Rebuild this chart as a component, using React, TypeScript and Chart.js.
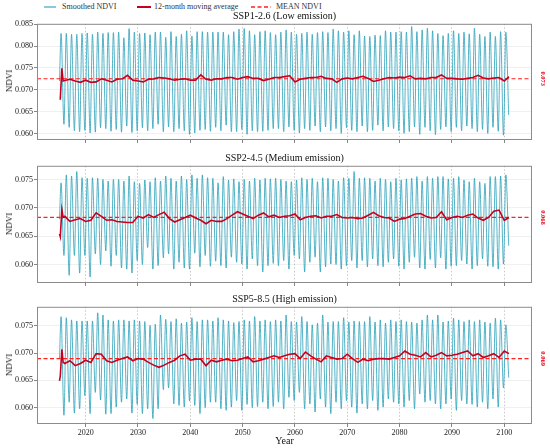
import React, {useEffect, useRef} from 'react'
import {Chart, registerables} from 'chart.js'

Chart.register(...registerables)

const FONT = '"Liberation Serif", "Times New Roman", serif'

// time axis
const YEARS = Array.from({length: 86}, (_, i) => 2015 + i) // 2015..2100
const X_TICKS = [2020, 2030, 2040, 2050, 2060, 2070, 2080, 2090, 2100]
const X_MIN = 2010.7
const X_MAX = 2105.3
const MA_HEAD_X = [2015.0, 2015.15, 2015.45, 2015.7]

// ---- SSP1-2.6 ----
const SSP126_START = 0.072
const SSP126_PEAKS = [
  0.0829, 0.0829, 0.0827, 0.0827, 0.0829, 0.083, 0.0827, 0.0832, 0.0829, 0.0831,
  0.0831, 0.0832, 0.0819, 0.084, 0.0832, 0.0829, 0.083, 0.0826, 0.0832, 0.0832,
  0.082, 0.0833, 0.0822, 0.0827, 0.0835, 0.0823, 0.0833, 0.0833, 0.0832, 0.0832,
  0.0832, 0.0832, 0.0826, 0.0833, 0.0839, 0.084, 0.0835, 0.0826, 0.0833, 0.0835,
  0.0831,
  0.0826, 0.0832, 0.0837, 0.0832, 0.0827, 0.0829, 0.0832, 0.0827, 0.0831, 0.0833,
  0.0831, 0.0839, 0.0835, 0.0832, 0.0835, 0.0826, 0.0835, 0.0823, 0.0822, 0.0825,
  0.0824, 0.0835, 0.0832, 0.0832, 0.0833, 0.0832, 0.0845, 0.0833, 0.0837, 0.0841,
  0.0835, 0.0829, 0.0824, 0.0829, 0.0835, 0.0829, 0.0832, 0.0828, 0.0841, 0.0827,
  0.0822, 0.0832, 0.0822, 0.0833, 0.0832,
]
const SSP126_TROUGHS = [
  0.0621, 0.0614, 0.0606, 0.0604, 0.0607, 0.0601, 0.0603, 0.0613, 0.0611, 0.0605,
  0.0609, 0.0603, 0.0617, 0.0602, 0.0606, 0.0613, 0.0606, 0.0611, 0.0621, 0.0604,
  0.0615, 0.0604, 0.0611, 0.0606, 0.0598, 0.0601, 0.0607, 0.0609, 0.0605, 0.0614,
  0.0606, 0.0619, 0.0604, 0.0604, 0.0609, 0.0598, 0.0606, 0.0604, 0.0605, 0.0607,
  0.0611,
  0.0611, 0.0604, 0.0615, 0.0607, 0.0601, 0.0611, 0.0607, 0.0617, 0.0604, 0.0615,
  0.0606, 0.0611, 0.06, 0.0613, 0.0607, 0.0604, 0.0617, 0.0604, 0.0607, 0.0619,
  0.0606, 0.0615, 0.0611, 0.0606, 0.06, 0.0604, 0.0615, 0.0598, 0.0614, 0.0606,
  0.0597, 0.0609, 0.0615, 0.0604, 0.0614, 0.0606, 0.0617, 0.0611, 0.0604, 0.0609,
  0.06, 0.0614, 0.0605, 0.0596, 0.0642,
]
const SSP126_MA_HEAD = [0.0679, 0.0679, 0.0749, 0.072]
const SSP126_MA = [
  0.0721, 0.0724, 0.072, 0.0717, 0.0722, 0.0717, 0.0718, 0.0725, 0.0722, 0.0718,
  0.0724, 0.0725, 0.0733, 0.0722, 0.072, 0.0718, 0.0724, 0.0725, 0.0728, 0.0727,
  0.0725, 0.0722, 0.0724, 0.0725, 0.0722, 0.0722, 0.0734, 0.0724, 0.0722, 0.0725,
  0.0725, 0.0728, 0.0728, 0.0724, 0.0728, 0.073, 0.0726, 0.0726, 0.0721, 0.0724,
  0.0728,
  0.0728, 0.073, 0.0732, 0.0718, 0.0724, 0.0726, 0.0728, 0.0728, 0.0731, 0.0726,
  0.0725, 0.0717, 0.0725, 0.0727, 0.0725, 0.0728, 0.0731, 0.0726, 0.0719, 0.0722,
  0.0725, 0.0728, 0.0727, 0.0729, 0.0728, 0.0732, 0.0725, 0.0726, 0.0725, 0.0728,
  0.0728, 0.0734, 0.0726, 0.0726, 0.0725, 0.0724, 0.0726, 0.0728, 0.0733, 0.0727,
  0.0725, 0.0727, 0.0728, 0.072,
]
const SSP126_MA_END = 0.073
const SSP126_MEAN = 0.07252

// ---- SSP2-4.5 ----
const SSP245_START = 0.068
const SSP245_PEAKS = [
  0.0744, 0.0758, 0.0756, 0.0764, 0.0753, 0.0752, 0.0753, 0.0752, 0.075, 0.0747,
  0.075, 0.075, 0.0747, 0.0756, 0.0746, 0.0743, 0.0749, 0.0746, 0.0753, 0.0747,
  0.0756, 0.0752, 0.0747, 0.0756, 0.075, 0.0758, 0.0752, 0.0758, 0.0753, 0.0752,
  0.0744, 0.0755, 0.0749, 0.0751, 0.0746, 0.075, 0.0747, 0.0752, 0.0749, 0.0752,
  0.0751,
  0.0752, 0.075, 0.0747, 0.0746, 0.0749, 0.0753, 0.075, 0.0752, 0.0746, 0.0753,
  0.0752, 0.075, 0.0747, 0.0753, 0.0752, 0.0764, 0.0752, 0.0753, 0.0752, 0.0747,
  0.0752, 0.075, 0.0746, 0.0752, 0.0749, 0.0751, 0.0752, 0.0755, 0.0747, 0.0755,
  0.0752, 0.0755, 0.0755, 0.0751, 0.0752, 0.0755, 0.0749, 0.0746, 0.0752, 0.0746,
  0.0743, 0.0755, 0.0755, 0.0756, 0.0758,
]
const SSP245_TROUGHS = [
  0.0616, 0.0581, 0.0616, 0.0585, 0.0616, 0.0578, 0.0619, 0.06, 0.0624, 0.0597,
  0.0616, 0.0594, 0.0592, 0.0585, 0.0607, 0.06, 0.063, 0.0592, 0.0598, 0.0612,
  0.0619, 0.0592, 0.0604, 0.0594, 0.0592, 0.062, 0.0596, 0.0616, 0.0597, 0.0606,
  0.0598, 0.0594, 0.0613, 0.0604, 0.0601, 0.0592, 0.061, 0.0598, 0.0587, 0.0598,
  0.0602,
  0.0598, 0.0607, 0.0592, 0.0616, 0.061, 0.0587, 0.0604, 0.0613, 0.0587, 0.0596,
  0.0601, 0.06, 0.0592, 0.0598, 0.0607, 0.0594, 0.0607, 0.0596, 0.061, 0.0598,
  0.0596, 0.0604, 0.061, 0.0597, 0.0592, 0.0604, 0.0613, 0.0594, 0.0592, 0.0609,
  0.0594, 0.0612, 0.0592, 0.0597, 0.0598, 0.0607, 0.0601, 0.0592, 0.0598, 0.061,
  0.0597, 0.0596, 0.0592, 0.0601, 0.0633,
]
const SSP245_MA_HEAD = [0.0654, 0.0649, 0.0697, 0.0683]
const SSP245_MA = [
  0.0685, 0.0676, 0.0679, 0.0681, 0.0676, 0.0678, 0.0691, 0.0685, 0.0678, 0.0679,
  0.0676, 0.0675, 0.0674, 0.0674, 0.0685, 0.0682, 0.0688, 0.0683, 0.0688, 0.0692,
  0.0681, 0.0675, 0.0679, 0.0683, 0.0687, 0.0682, 0.0678, 0.0672, 0.0678, 0.0676,
  0.0676, 0.0681, 0.0687, 0.0693, 0.0689, 0.0685, 0.0681, 0.0687, 0.0691, 0.0684,
  0.0687,
  0.0683, 0.0685, 0.0686, 0.0689, 0.0679, 0.0683, 0.0685, 0.0686, 0.0682, 0.0685,
  0.0685, 0.0688, 0.0683, 0.0682, 0.0683, 0.0681, 0.0682, 0.0687, 0.0692, 0.0686,
  0.0683, 0.0682, 0.0676, 0.068, 0.0681, 0.0685, 0.0689, 0.069, 0.0685, 0.0682,
  0.0683, 0.0693, 0.0679, 0.0683, 0.0685, 0.0683, 0.0687, 0.0689, 0.0682, 0.0678,
  0.0683, 0.0694, 0.0696, 0.0678,
]
const SSP245_MA_END = 0.0683
const SSP245_MEAN = 0.0683

// ---- SSP5-8.5 ----
const SSP585_START = 0.069
const SSP585_PEAKS = [
  0.0767, 0.0765, 0.0761, 0.0759, 0.0759, 0.0759, 0.0759, 0.0774, 0.077, 0.0761,
  0.0759, 0.0761, 0.0761, 0.0759, 0.0761, 0.0759, 0.0758, 0.0751, 0.0753, 0.077,
  0.0762, 0.0758, 0.0763, 0.0755, 0.0757, 0.0765, 0.0758, 0.0761, 0.0761, 0.0759,
  0.0765, 0.0761, 0.0759, 0.0756, 0.0758, 0.0761, 0.0759, 0.0767, 0.0759, 0.0761,
  0.0758,
  0.0761, 0.0759, 0.077, 0.0758, 0.0757, 0.0767, 0.0758, 0.0752, 0.0755, 0.077,
  0.0757, 0.0758, 0.0758, 0.0765, 0.0757, 0.0759, 0.0758, 0.0758, 0.0767, 0.0757,
  0.0761, 0.0755, 0.0761, 0.0758, 0.0761, 0.0758, 0.0757, 0.0755, 0.0761, 0.077,
  0.0761, 0.077, 0.0757, 0.0759, 0.0764, 0.0761, 0.0758, 0.0761, 0.0758, 0.0761,
  0.0757, 0.0755, 0.0764, 0.0761, 0.0752,
]
const SSP585_TROUGHS = [
  0.0586, 0.061, 0.059, 0.0598, 0.0622, 0.0589, 0.0628, 0.0614, 0.0588, 0.0589,
  0.0601, 0.061, 0.0616, 0.059, 0.0606, 0.0589, 0.0598, 0.058, 0.0598, 0.0633,
  0.0636, 0.0607, 0.0604, 0.0601, 0.0612, 0.0604, 0.0589, 0.06, 0.061, 0.061,
  0.0598, 0.0595, 0.0601, 0.0613, 0.0595, 0.0606, 0.06, 0.0602, 0.061, 0.0598,
  0.0602,
  0.061, 0.0598, 0.0619, 0.0613, 0.0628, 0.0598, 0.0607, 0.0592, 0.0616, 0.0601,
  0.0589, 0.061, 0.0598, 0.0613, 0.0601, 0.059, 0.0607, 0.0598, 0.0613, 0.0595,
  0.0601, 0.0616, 0.061, 0.0607, 0.0601, 0.0613, 0.0598, 0.0625, 0.061, 0.0613,
  0.0607, 0.0598, 0.0607, 0.0616, 0.0595, 0.0613, 0.0607, 0.0606, 0.0601, 0.061,
  0.0598, 0.0616, 0.0601, 0.0636, 0.0655,
]
const SSP585_MA_HEAD = [0.0649, 0.0658, 0.0707, 0.0683]
const SSP585_MA = [
  0.0681, 0.0686, 0.0677, 0.0681, 0.0687, 0.0683, 0.0699, 0.0698, 0.0686, 0.0683,
  0.0687, 0.069, 0.0693, 0.0686, 0.069, 0.0689, 0.0683, 0.0678, 0.0674, 0.0678,
  0.0683, 0.0687, 0.0695, 0.0698, 0.0687, 0.0689, 0.0689, 0.0677, 0.0687, 0.0684,
  0.0687, 0.0689, 0.0686, 0.0687, 0.069, 0.0693, 0.0684, 0.0686, 0.0689, 0.0692,
  0.0695,
  0.0692, 0.0695, 0.0698, 0.0699, 0.069, 0.0702, 0.0695, 0.0689, 0.0684, 0.0695,
  0.0692, 0.0689, 0.069, 0.0698, 0.069, 0.0683, 0.0689, 0.0686, 0.0689, 0.069,
  0.069, 0.0689, 0.0692, 0.0695, 0.0704, 0.0698, 0.0696, 0.0693, 0.0701, 0.0693,
  0.0696, 0.0701, 0.0695, 0.0696, 0.0698, 0.0701, 0.0704, 0.0695, 0.0699, 0.0692,
  0.0695, 0.0699, 0.0692, 0.0704,
]
const SSP585_MA_END = 0.0699
const SSP585_MEAN = 0.069

const Y_TICKS_1 = [0.06, 0.065, 0.07, 0.075, 0.08, 0.085]
const Y_TICKS_2 = [0.06, 0.065, 0.07, 0.075]

const LEFT = 37
const RIGHT = 532
const PAD_TOP = 4
const X_AXIS_H = 22

const TEAL = 'rgba(40, 160, 185, 0.8)'
const MA_RED = '#c8001e'
const MEAN_RED = '#ff2020'

type PanelProps = {
  title: string
  start: number
  peaks: number[]
  troughs: number[]
  maHead: number[]
  ma: number[]
  maEnd: number
  mean: number
  yMin: number
  yMax: number
  yTicks: number[]
  top: number
  bottom: number
  showYears: boolean
}

const framePlugin = {
  id: 'frame',
  afterDraw(chart: any, _args: any, opts: any) {
    const {ctx, chartArea: a} = chart
    ctx.save()
    ctx.strokeStyle = '#8c8c8c'
    ctx.lineWidth = 1
    ctx.strokeRect(a.left + 0.5, a.top + 0.5, a.right - a.left - 1, a.bottom - a.top - 1)
    // mean value label on the right
    const y = chart.scales.y.getPixelForValue(opts.mean)
    ctx.translate(a.right + 11, y)
    ctx.rotate(Math.PI / 2)
    ctx.font = `bold 6.5px ${FONT}`
    ctx.fillStyle = '#e8001c'
    ctx.textAlign = 'center'
    ctx.textBaseline = 'middle'
    ctx.fillText(Number(opts.mean).toFixed(3), 0, 0)
    ctx.restore()
  },
}

const Panel: React.FC<PanelProps> = (p) => {
  const chartRef = useRef<HTMLCanvasElement | null>(null)

  useEffect(() => {
    if (!chartRef.current) {
      return
    }

    const smooth: {x: number; y: number}[] = [{x: YEARS[0], y: p.start}]
    YEARS.forEach((yr, i) => {
      smooth.push({x: yr + 0.3, y: p.peaks[i]})
      smooth.push({x: yr + 0.85, y: p.troughs[i]})
    })

    const ma: {x: number; y: number}[] = MA_HEAD_X.map((x, i) => ({x, y: p.maHead[i]}))
    YEARS.slice(1).forEach((yr, i) => ma.push({x: yr, y: p.ma[i]}))
    ma.push({x: 2100.9, y: p.maEnd})

    const chart = new Chart(chartRef.current, {
      type: 'line',
      data: {
        datasets: [
          {
            label: '12-month moving average',
            data: ma,
            borderColor: MA_RED,
            borderWidth: 1.6,
            pointRadius: 0,
            order: 0,
          },
          {
            label: 'MEAN NDVI',
            data: [
              {x: X_MIN, y: p.mean},
              {x: X_MAX, y: p.mean},
            ],
            borderColor: MEAN_RED,
            borderWidth: 1.2,
            borderDash: [4, 2.5],
            pointRadius: 0,
            order: 1,
          },
          {
            label: 'Smoothed NDVI',
            data: smooth,
            borderColor: TEAL,
            borderWidth: 1,
            pointRadius: 0,
            cubicInterpolationMode: 'monotone',
            order: 2,
          },
        ],
      },
      options: {
        animation: false,
        responsive: true,
        maintainAspectRatio: false,
        layout: {padding: {top: PAD_TOP, right: 550 - RIGHT, left: 0, bottom: 0}},
        plugins: {
          legend: {display: false},
          tooltip: {enabled: false},
          frame: {mean: p.mean},
        } as any,
        scales: {
          x: {
            type: 'linear',
            min: X_MIN,
            max: X_MAX,
            afterBuildTicks: (s: any) => {
              s.ticks = X_TICKS.map((v) => ({value: v}))
            },
            afterFit: (s: any) => {
              s.height = X_AXIS_H
            },
            ticks: {
              autoSkip: false,
              maxRotation: 0,
              padding: 1,
              color: '#222',
              font: {family: FONT, size: 8},
              callback: (v: any) => (p.showYears ? String(v) : ''),
            },
            grid: {color: 'rgba(0,0,0,0.28)', lineWidth: 0.8, tickColor: '#666', tickLength: 3},
            border: {display: false, dash: [1.5, 2]},
          },
          y: {
            min: p.yMin,
            max: p.yMax,
            afterBuildTicks: (s: any) => {
              s.ticks = p.yTicks.map((v) => ({value: v}))
            },
            afterFit: (s: any) => {
              s.width = LEFT
            },
            ticks: {
              padding: 1,
              color: '#222',
              font: {family: FONT, size: 8},
              callback: (v: any) => Number(v).toFixed(3),
            },
            grid: {color: 'rgba(0,0,0,0.08)', lineWidth: 0.8, tickColor: '#666', tickLength: 3},
            border: {display: false},
          },
        },
      },
      plugins: [framePlugin],
    })

    return () => {
      chart.destroy()
    }
  }, [chartRef, p])

  const h = p.bottom - p.top
  return (
    <>
      <div
        style={{
          position: 'absolute',
          left: 0,
          top: p.top - PAD_TOP,
          width: 550,
          height: h + PAD_TOP + X_AXIS_H,
        }}
      >
        <canvas ref={chartRef}></canvas>
      </div>
      <div
        style={{
          position: 'absolute',
          left: LEFT,
          width: RIGHT - LEFT,
          top: p.top - 12.5,
          lineHeight: '12px',
          fontSize: 10,
          textAlign: 'center',
          color: '#111',
        }}
      >
        {p.title}
      </div>
      <div
        style={{
          position: 'absolute',
          left: 8.5,
          top: p.top + h / 2,
          fontSize: 9,
          lineHeight: '10px',
          color: '#111',
          whiteSpace: 'nowrap',
          transform: 'translate(-50%, -50%) rotate(-90deg)',
        }}
      >
        NDVI
      </div>
    </>
  )
}

const legendText: React.CSSProperties = {
  position: 'absolute',
  top: 1,
  fontSize: 8,
  lineHeight: '12px',
  color: '#333',
  whiteSpace: 'nowrap',
}

export default function App() {
  return (
    <div
      style={{
        position: 'absolute',
        left: 0,
        top: 0,
        width: 550,
        height: 448,
        background: '#fff',
        fontFamily: FONT,
      }}
    >
      {/* legend */}
      <svg style={{position: 'absolute', left: 0, top: 0}} width={300} height={14}>
        <line x1={44} x2={56} y1={7} y2={7} stroke={TEAL} strokeWidth={1.4} />
        <line x1={137} x2={151} y1={7} y2={7} stroke={MA_RED} strokeWidth={2} />
        <line x1={251} x2={271} y1={7} y2={7} stroke={MEAN_RED} strokeWidth={1.4} strokeDasharray='4 2.5' />
      </svg>
      <div style={{...legendText, left: 62}}>Smoothed NDVI</div>
      <div style={{...legendText, left: 154}}>12-month moving average</div>
      <div style={{...legendText, left: 276}}>MEAN NDVI</div>

      <Panel
        title='SSP1-2.6 (Low emission)'
        start={SSP126_START}
        peaks={SSP126_PEAKS}
        troughs={SSP126_TROUGHS}
        maHead={SSP126_MA_HEAD}
        ma={SSP126_MA}
        maEnd={SSP126_MA_END}
        mean={SSP126_MEAN}
        yMin={0.0585}
        yMax={0.0851}
        yTicks={Y_TICKS_1}
        top={22}
        bottom={140}
        showYears={false}
      />
      <Panel
        title='SSP2-4.5 (Medium emission)'
        start={SSP245_START}
        peaks={SSP245_PEAKS}
        troughs={SSP245_TROUGHS}
        maHead={SSP245_MA_HEAD}
        ma={SSP245_MA}
        maEnd={SSP245_MA_END}
        mean={SSP245_MEAN}
        yMin={0.05675}
        yMax={0.0774}
        yTicks={Y_TICKS_2}
        top={164}
        bottom={283}
        showYears={false}
      />
      <Panel
        title='SSP5-8.5 (High emission)'
        start={SSP585_START}
        peaks={SSP585_PEAKS}
        troughs={SSP585_TROUGHS}
        maHead={SSP585_MA_HEAD}
        ma={SSP585_MA}
        maEnd={SSP585_MA_END}
        mean={SSP585_MEAN}
        yMin={0.057}
        yMax={0.0785}
        yTicks={Y_TICKS_2}
        top={305}
        bottom={424}
        showYears={true}
      />

      <div
        style={{
          position: 'absolute',
          left: LEFT,
          width: RIGHT - LEFT,
          top: 435,
          fontSize: 10,
          lineHeight: '12px',
          textAlign: 'center',
          color: '#111',
        }}
      >
        Year
      </div>
    </div>
  )
}
